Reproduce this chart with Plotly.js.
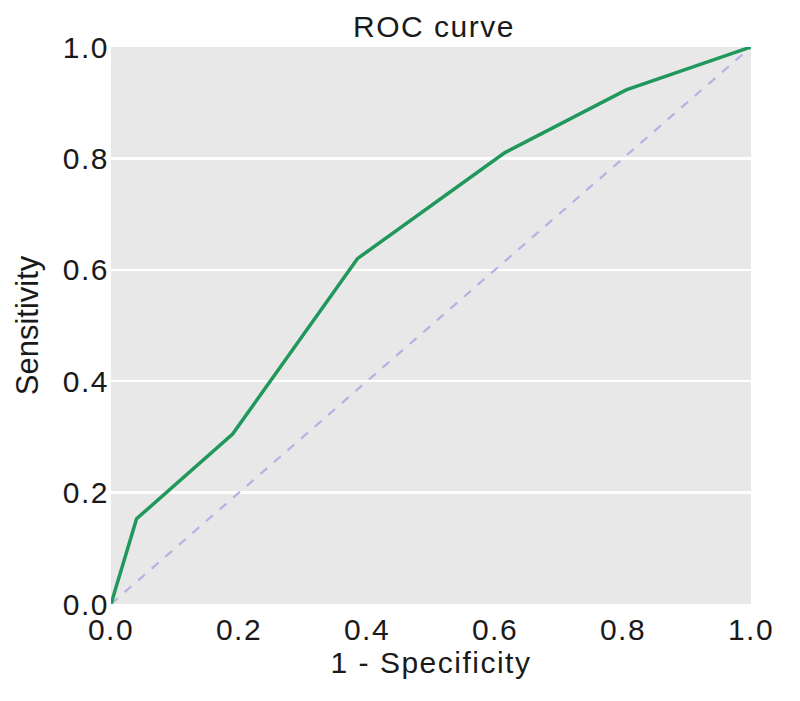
<!DOCTYPE html>
<html>
<head>
<meta charset="utf-8">
<script src="https://cdn.plot.ly/plotly-3.0.1.min.js"></script>
<style>
  html, body { margin: 0; padding: 0; background: #fff; }
  #chart { width: 800px; height: 701px; }
  /* the source glyphs are set a little wide */
  #chart .xtick text, #chart .ytick text, #chart .gtitle, #chart .xtitle { letter-spacing: 1.5px; }
</style>
</head>
<body>
<div id="chart"></div>
<script>
// ROC curve points (1 - specificity, sensitivity)
const fpr = [0.0, 0.04, 0.19, 0.385, 0.615, 0.805, 1.0];
const tpr = [0.0, 0.153, 0.305, 0.62, 0.81, 0.923, 1.0];

// chance line
const diagX = [0, 1];
const diagY = [0, 1];

const tickVals = [0, 0.2, 0.4, 0.6, 0.8, 1.0];
const tickText = ['0.0', '0.2', '0.4', '0.6', '0.8', '1.0'];

const font = 'Liberation Sans, Arial, sans-serif';
const ink = '#1a1a1a';

const diagTrace = {
    x: diagX,
    y: diagY,
    type: 'scatter',
    mode: 'lines',
    line: { color: '#b4b2e2', width: 2.2, dash: 'dash' },
    hoverinfo: 'skip'
};

const rocTrace = {
    x: fpr,
    y: tpr,
    type: 'scatter',
    mode: 'lines',
    line: { color: '#20985c', width: 3.5 }
};

const layout = {
    width: 800,
    height: 701,
    margin: { l: 111, r: 49, t: 47, b: 97 },
    paper_bgcolor: '#ffffff',
    plot_bgcolor: '#e8e8e8',
    showlegend: false,
    title: {
        text: 'ROC curve',
        font: { family: font, size: 30, color: ink },
        x: 0.5425, xanchor: 'center',
        y: 0.962, yanchor: 'middle'
    },
    xaxis: {
        range: [0, 1],
        tickvals: tickVals,
        ticktext: tickText,
        showgrid: false,
        zeroline: false,
        showline: false,
        ticks: '',
        ticklabelstandoff: 5,
        tickfont: { family: font, size: 30, color: ink },
        title: { text: '1 - Specificity', font: { family: font, size: 30, color: ink }, standoff: 4 }
    },
    yaxis: {
        range: [0, 1],
        tickvals: tickVals,
        ticktext: tickText,
        showgrid: true,
        gridcolor: '#ffffff',
        gridwidth: 2.5,
        zeroline: false,
        showline: false,
        ticks: '',
        ticklabelstandoff: 1,
        tickfont: { family: font, size: 30, color: ink },
        title: { text: 'Sensitivity', font: { family: font, size: 31, color: ink }, standoff: 19 }
    }
};

Plotly.newPlot('chart', [diagTrace, rocTrace], layout, { displayModeBar: false, staticPlot: true });
</script>
</body>
</html>
